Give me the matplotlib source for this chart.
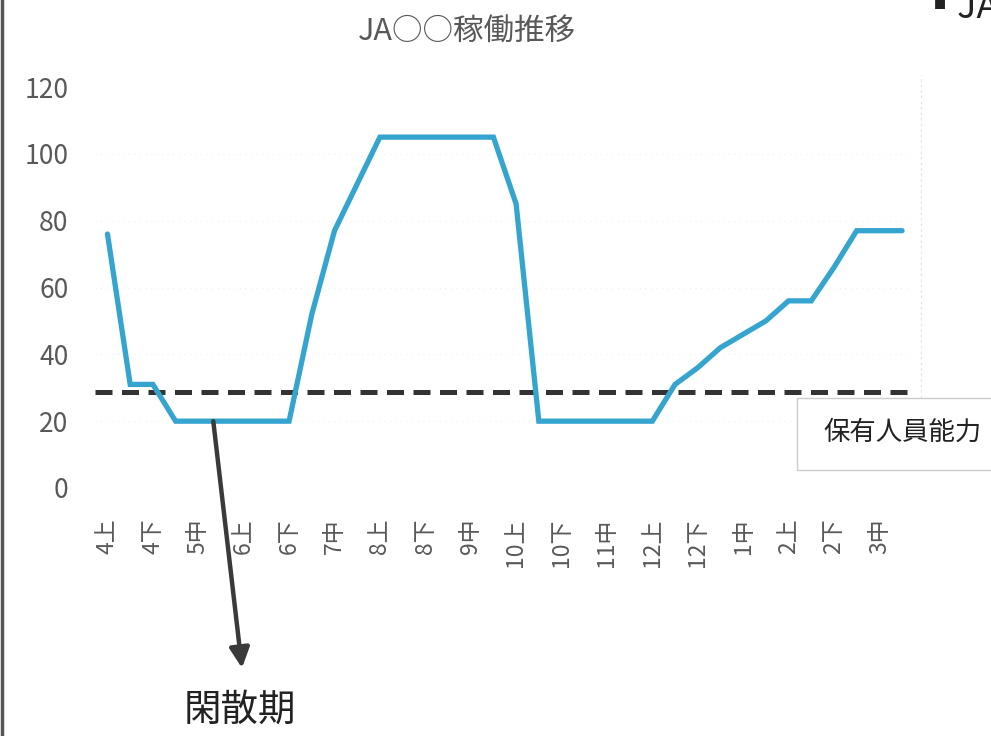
import matplotlib
matplotlib.use("Agg")
import matplotlib.pyplot as plt
from matplotlib.patches import Rectangle
from matplotlib.lines import Line2D

plt.rcParams['font.family'] = ['Noto Sans CJK JP', 'DejaVu Sans']
plt.rcParams['axes.unicode_minus'] = False

# data: 36 periods (上/中/下 of each month, Apr -> Mar), labels shown every 2nd
months = [4, 5, 6, 7, 8, 9, 10, 11, 12, 1, 2, 3]
thirds = ["上", "中", "下"]
periods = [f"{m}{t}" for m in months for t in thirds]
workload = [76, 31, 31, 20, 20, 20, 20, 20, 20, 52, 77, 91,
            105, 105, 105, 105, 105, 105, 85, 20, 20, 20, 20, 20,
            20, 31, 36, 42, 46, 50, 56, 56, 66, 77, 77, 77]
capacity = 28.7
y_ticks = [0, 20, 40, 60, 80, 100, 120]

GRAY = "#595959"
BLUE = "#35a4cf"

W, H = 991, 736
fig = plt.figure(figsize=(W / 100, H / 100), dpi=100)
ax = fig.add_axes([95 / W, 1 - 488 / H, (910 - 95) / W, (488 - 87) / H])

x = list(range(len(periods)))
ax.plot(x, workload, color=BLUE, lw=3.8, solid_capstyle="round", solid_joinstyle="miter", zorder=3, clip_on=False)
ax.axhline(capacity, color="#333333", lw=3.6, dashes=(3.4, 1.9), zorder=2)
for v in y_ticks[1:-1]:
    ax.axhline(v, color="#f0f0f0", lw=0.8, ls=(0, (1, 4)), zorder=0)

ax.set_xlim(-0.55, 35.35)
ax.set_ylim(0, 120)
ax.set_yticks(y_ticks)
ax.set_xticks(x[::2])
ax.set_xticklabels(periods[::2], rotation=90, va="top", ha="center")
ax.tick_params(axis="y", length=0, pad=19, labelsize=19, labelcolor=GRAY)
ax.tick_params(axis="x", length=0, pad=22, labelsize=16.5, labelcolor=GRAY)
for s in ax.spines.values():
    s.set_visible(False)

fig.text(467 / W, 1 - 32 / H, "JA○○稼働推移", ha="center", va="center", fontsize=22, color=GRAY)

# 閑散期 arrow
ax.annotate("", xy=(242 / W, 1 - 668 / H), xycoords="figure fraction",
            xytext=(4.66, 20), textcoords="data",
            arrowprops=dict(arrowstyle="-|>", color="#3a3a3a", lw=3.2, mutation_scale=30,
                            shrinkA=0, shrinkB=0), zorder=4)
fig.text(240 / W, 1 - 710 / H, "閑散期", ha="center", va="center", fontsize=27, color="#222222")

# capacity box
fig.patches.append(Rectangle((797 / W, 1 - 470 / H), 250 / W, 72 / H, transform=fig.transFigure,
                             fc="white", ec="#cccccc", lw=1.0, zorder=5))
fig.text(823 / W, 1 - 432 / H, "保有人員能力", ha="left", va="center", fontsize=19, color="#222222", zorder=6)

# neighbouring page content, cut off at the right edge as in the scan
fig.text(922 / W, 1 - 8 / H, "▪JA", ha="left", va="center", fontsize=26, color="#222222")
fig.add_artist(Line2D([921 / W, 921 / W], [1 - 470 / H, 1 - 75 / H], color="#e0e0e0", lw=0.8, ls=(0, (2, 3))))
fig.add_artist(Line2D([1.5 / W, 1.5 / W], [0, 1], color="#555555", lw=2.5))

fig.savefig("out.png", dpi=100)
